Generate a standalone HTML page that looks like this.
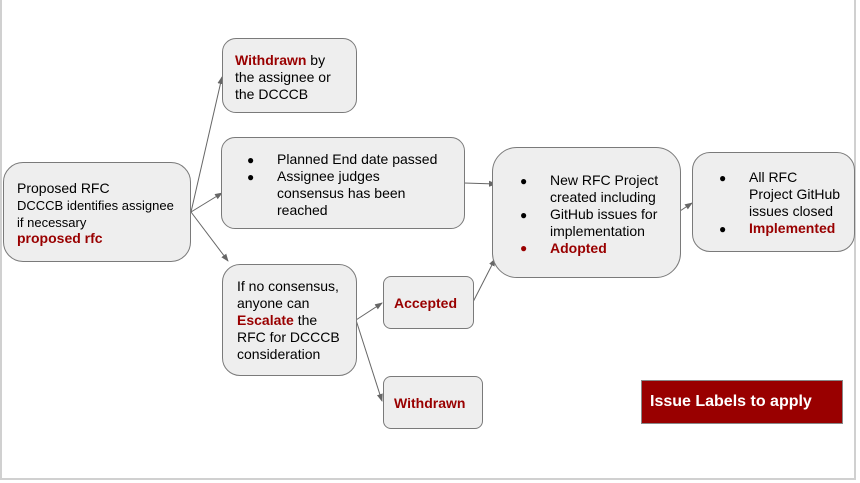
<!DOCTYPE html>
<html><head><style>
body{margin:0;width:860px;height:483px;background:#fff;position:relative;overflow:hidden;font-family:"Liberation Sans",sans-serif;color:#000}
.b{position:absolute;background:#eeeeee;border:1px solid #7a7a7a;box-sizing:border-box;font-size:14px;line-height:17px}
.r{color:#990000;font-weight:bold}
.t{position:absolute}
.bul{position:absolute;font-size:12px}
</style></head><body>
<div style="position:absolute;left:0;top:0;width:856px;height:480px;border-left:2px solid #d0d0d0;border-right:2px solid #d0d0d0;border-bottom:2px solid #d0d0d0;box-sizing:border-box"></div>
<svg width="860" height="483" style="position:absolute;left:0;top:0">
<defs><marker id="a" markerWidth="8" markerHeight="8" refX="7" refY="4" orient="auto" markerUnits="userSpaceOnUse"><path d="M0,1 L8,4 L0,7z" fill="#666"/></marker></defs>
<g stroke="#666" stroke-width="1" fill="none" marker-end="url(#a)">
<line x1="191" y1="212" x2="222" y2="77"/>
<line x1="191" y1="212" x2="222" y2="193"/>
<line x1="191" y1="212" x2="228" y2="261"/>
<line x1="464" y1="183" x2="496" y2="184"/>
<line x1="356" y1="320" x2="382" y2="303"/>
<line x1="356" y1="320" x2="382" y2="401"/>
<line x1="473" y1="302" x2="495" y2="259"/>
<line x1="680" y1="211" x2="692" y2="203"/>
</g></svg>
<div class="b" style="left:3px;top:162px;width:188px;height:100px;border-radius:20px">
<div class="t" style="left:13px;top:17px">Proposed RFC</div>
<div class="t" style="left:13px;top:34px;font-size:13px">DCCCB identifies assignee</div>
<div class="t" style="left:13px;top:51px;font-size:13px">if necessary</div>
<div class="t r" style="left:13px;top:67px">proposed rfc</div>
</div>
<div class="b" style="left:222px;top:38px;width:135px;height:75px;border-radius:14px">
<div class="t" style="left:12px;top:13px"><span class="r">Withdrawn</span> by<br>the assignee or<br>the DCCCB</div>
</div>
<div class="b" style="left:221px;top:137px;width:244px;height:92px;border-radius:14px">
<div class="bul" style="left:25px;top:14px">●</div>
<div class="bul" style="left:25px;top:31px">●</div>
<div class="t" style="left:55px;top:13px">Planned End date passed<br>Assignee judges<br>consensus has been<br>reached</div>
</div>
<div class="b" style="left:222px;top:264px;width:135px;height:112px;border-radius:18px">
<div class="t" style="left:14px;top:13px">If no consensus,<br>anyone can<br><span class="r">Escalate</span> the<br>RFC for DCCCB<br>consideration</div>
</div>
<div class="b" style="left:383px;top:276px;width:91px;height:53px;border-radius:8px">
<div class="t r" style="left:10px;top:18px">Accepted</div>
</div>
<div class="b" style="left:383px;top:376px;width:100px;height:53px;border-radius:8px">
<div class="t r" style="left:10px;top:18px">Withdrawn</div>
</div>
<div class="b" style="left:492px;top:147px;width:189px;height:131px;border-radius:25px">
<div class="bul" style="left:27px;top:25px">●</div>
<div class="bul" style="left:27px;top:59px">●</div>
<div class="bul" style="left:27px;top:92px;color:#990000">●</div>
<div class="t" style="left:57px;top:24px">New RFC Project<br>created including<br>GitHub issues for<br>implementation<br><span class="r">Adopted</span></div>
</div>
<div class="b" style="left:692px;top:152px;width:163px;height:100px;border-radius:18px">
<div class="bul" style="left:26px;top:17px">●</div>
<div class="bul" style="left:26px;top:68px">●</div>
<div class="t" style="left:56px;top:16px">All RFC<br>Project GitHub<br>issues closed<br><span class="r">Implemented</span></div>
</div>
<div style="position:absolute;left:641px;top:380px;width:202px;height:44px;background:#990000;border:1px solid #888;box-sizing:border-box;color:#fff;font-weight:bold;font-size:16px;line-height:42px;padding-left:8px">Issue Labels to apply</div>
</body></html>
